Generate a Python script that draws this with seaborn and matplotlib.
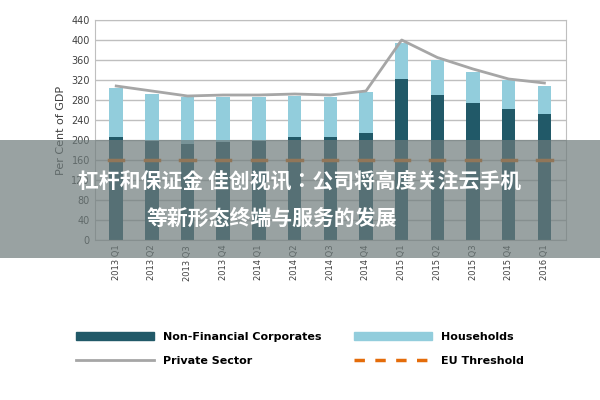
import matplotlib
matplotlib.use("Agg")
import matplotlib.pyplot as plt
import seaborn as sns
import pandas as pd
from matplotlib.patches import Rectangle
from matplotlib.lines import Line2D

quarters = ["2013 Q1","2013 Q2","2013 Q3","2013 Q4","2014 Q1","2014 Q2","2014 Q3","2014 Q4",
            "2015 Q1","2015 Q2","2015 Q3","2015 Q4","2016 Q1"]
nfc = [206,198,192,196,198,206,206,214,322,290,274,262,252]
households = [98,94,94,90,88,82,81,82,72,70,62,58,56]
private = [308,298,288,290,290,292,290,298,400,365,342,322,314]
eu = [160]*13

total = [a+b for a,b in zip(nfc,households)]
df = pd.DataFrame({"q":quarters,"nfc":nfc,"total":total,"private":private,"eu":eu})

cjk = ["Noto Sans CJK SC", "Noto Sans CJK JP", "Noto Sans CJK TC", "Noto Sans CJK KR", "DejaVu Sans"]

fig = plt.figure(figsize=(6,4), dpi=100)
ax = fig.add_axes([0.158, 0.40, 0.785, 0.55])
sns.barplot(data=df, x="q", y="total", color="#92cddc", width=0.38, ax=ax, saturation=1)
sns.barplot(data=df, x="q", y="nfc", color="#215968", width=0.38, ax=ax, saturation=1)
x = range(len(quarters))
ax.plot(x, private, color="#a6a6a6", lw=2, zorder=3)
for i, v in zip(x, eu):
    ax.plot([i-0.2, i+0.2], [v, v], color="#e46c0a", lw=2.5, zorder=4)
ax.set_ylim(0, 440)
ax.set_yticks(range(0, 441, 40))
ax.set_xlim(-0.6, 12.6)
ax.grid(axis="y", color="#bfbfbf", lw=1)
ax.set_axisbelow(True)
ax.set_xlabel("")
ax.set_ylabel("Per Cent of GDP", fontsize=8, color="#404040")
ax.tick_params(axis="y", labelsize=7, colors="#404040", length=0)
ax.tick_params(axis="x", labelsize=6, colors="#404040", length=0, rotation=90)
for s in ax.spines.values():
    s.set_color("#bfbfbf")

handles = [Rectangle((0,0),1,1,color="#215968"), Line2D([],[],color="#a6a6a6",lw=2),
           Rectangle((0,0),1,1,color="#92cddc"), Line2D([],[],color="#e46c0a",lw=2.5,ls=(0,(3,3)))]
labels = ["Non-Financial Corporates","Private Sector","Households","EU Threshold"]
fig.legend(handles, labels, loc="lower center", bbox_to_anchor=(0.5, 0.06), ncol=2,
           frameon=False, handlelength=7, columnspacing=3, labelspacing=1.3,
           prop={"weight":"bold","size":8})

fig.patches.append(Rectangle((0, 0.355), 1, 0.295, transform=fig.transFigure,
                             facecolor="#6e7b7b", alpha=0.7, zorder=10))
fig.text(0.5, 0.545, "杠杆和保证金 佳创视讯：公司将高度关注云手机", ha="center", va="center",
         fontsize=15, color="white", fontweight="bold", fontfamily=cjk, zorder=11)
fig.text(0.245, 0.455, "等新形态终端与服务的发展", ha="left", va="center",
         fontsize=15, color="white", fontweight="bold", fontfamily=cjk, zorder=11)
fig.savefig("out.png", dpi=100)
